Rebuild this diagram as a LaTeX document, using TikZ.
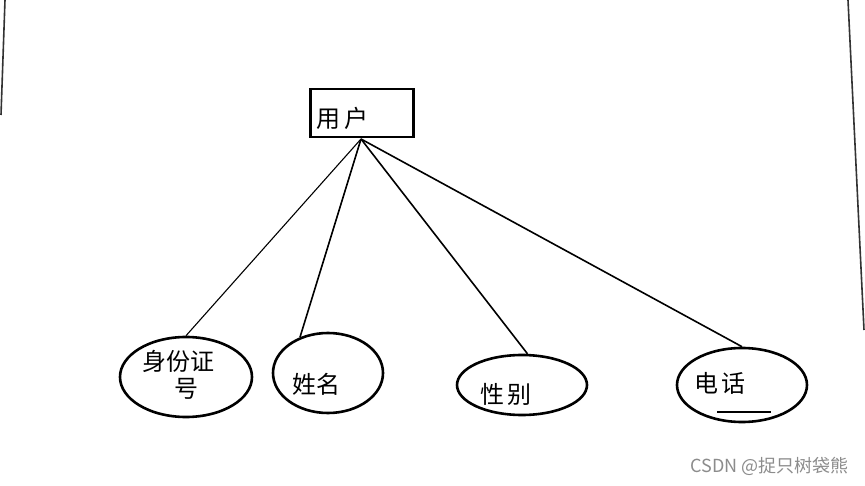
\documentclass[tikz,border=0pt]{standalone}
\usepackage{fontspec}
\newfontfamily\cjk{Noto Sans CJK SC}
\usetikzlibrary{shapes.geometric}
\begin{document}
\begin{tikzpicture}[x=1pt,y=-1pt,
  entity/.style={draw=black,line width=2.4pt,minimum width=103pt,minimum height=48pt,inner sep=0pt},
  attr/.style={ellipse,draw=black,line width=2.6pt,inner sep=0pt},
  link/.style={draw=black,line width=1.6pt},
  lbl/.style={font=\cjk\fontsize{24}{27}\selectfont,inner sep=0pt},
  edge/.style={draw=black!80,line width=1.6pt}]
\useasboundingbox (0,0) rectangle (865,486);
\fill[white] (0,0) rectangle (865,486);
% paper edges
\coordinate (l1) at (5,0); \coordinate (l2) at (1,115);
\coordinate (r1) at (848,0); \coordinate (r2) at (864,330);
\draw[edge] (l1) -- (l2);
\draw[edge] (r1) -- (r2);
% entity
\node[entity] (user) at (362,113) {};
\node[lbl,anchor=west] (usert) at (316,118) {用\,户};
% attributes
\node[attr,minimum width=132pt,minimum height=80pt] (id) at (186,377) {};
\node[lbl] (idt1) at (178,361) {身份证};
\node[lbl] (idt2) at (186,389) {号};
\node[attr,minimum width=110pt,minimum height=80pt] (name) at (328,373) {};
\node[lbl] (namet) at (316,384) {姓名};
\node[attr,minimum width=130pt,minimum height=60pt] (sex) at (522,385) {};
\node[lbl] (sext) at (506,394) {性\,别};
\node[attr,minimum width=130pt,minimum height=74pt] (tel) at (742,385) {};
\node[lbl] (telt) at (720,383) {电\,话};
\coordinate (u1) at (717,412); \coordinate (u2) at (771,412);
\draw[line width=2.4pt] (u1) -- (u2);
% connectors
\coordinate (o) at (361,139);
\draw[link,line width=1.1pt] (o) -- (id.north);
\draw[link] (o) -- (name.128);
\draw[link] (o) -- (sex.80);
\draw[link] (o) -- (tel.north);
% watermark
\node[font=\fontsize{18}{20}\selectfont\cjk,text=black!45,anchor=east] (wm) at (852,466) {CSDN @捉只树袋熊};
\end{tikzpicture}
\end{document}
